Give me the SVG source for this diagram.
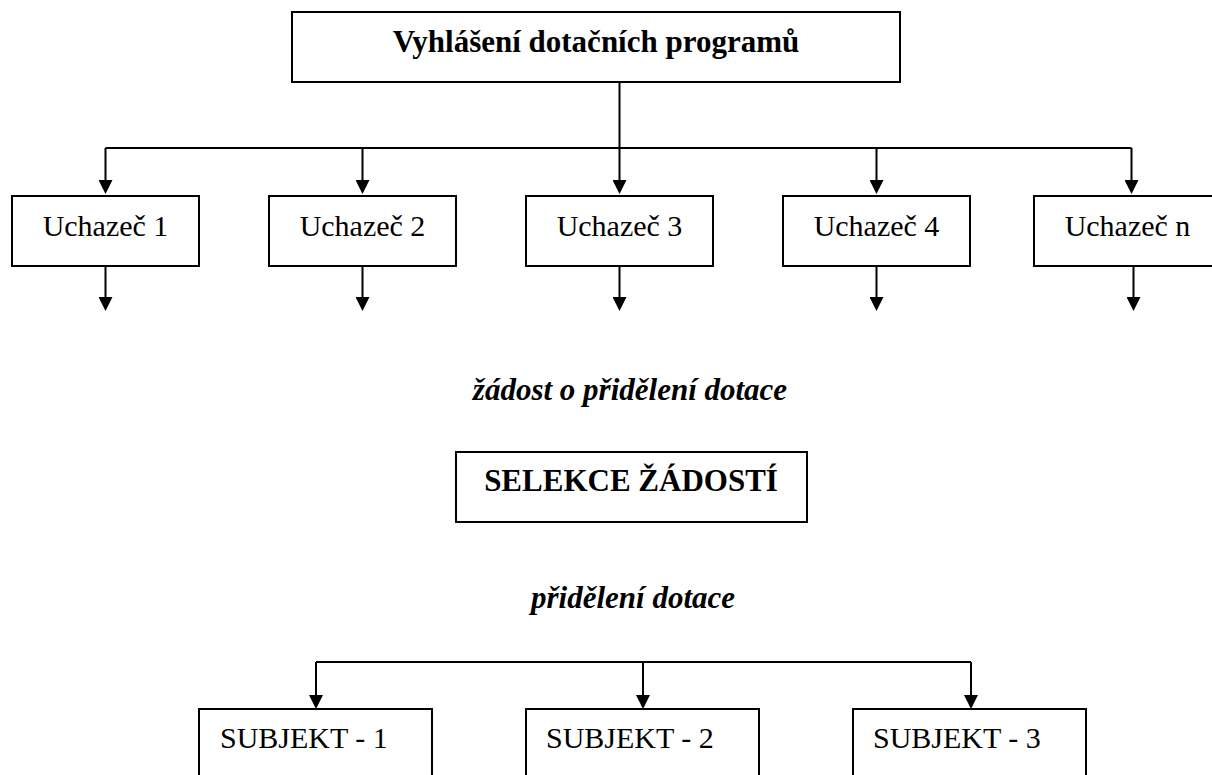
<svg xmlns="http://www.w3.org/2000/svg" width="1212" height="775" viewBox="0 0 1212 775">
<style>
  .box{fill:#fff;stroke:#000;stroke-width:2}
  .ln{fill:none;stroke:#000;stroke-width:2}
  .ar{fill:none;stroke:#000;stroke-width:2;marker-end:url(#ah)}
  .t{font-family:"Liberation Serif","Times New Roman",serif;font-size:30px;fill:#000}
  .c{text-anchor:middle}
  .b{font-weight:bold;font-size:31px}
  .bi{font-weight:bold;font-style:italic;font-size:31px}
</style>
<defs>
  <marker id="ah" markerUnits="userSpaceOnUse" markerWidth="14" markerHeight="14" refX="0" refY="7" orient="auto" viewBox="0 0 14 14">
    <path d="M0,0 L14,7 L0,14 Z" fill="#000"/>
  </marker>
</defs>
<rect width="1212" height="775" fill="#fff"/>
<g id="connectors">
  <path class="ar" d="M619.5,82 V180"/>
  <path class="ln" d="M105.5,148 H1131.5"/>
  <path class="ar" d="M105.5,148 V180"/>
  <path class="ar" d="M362.5,148 V180"/>
  <path class="ar" d="M876.5,148 V180"/>
  <path class="ar" d="M1131.5,148 V180"/>
  <path class="ar" d="M105.5,266 V297"/>
  <path class="ar" d="M362.5,266 V297"/>
  <path class="ar" d="M619.5,266 V297"/>
  <path class="ar" d="M876.5,266 V297"/>
  <path class="ar" d="M1133.5,266 V297"/>
  <path class="ln" d="M316,662 H971"/>
  <path class="ar" d="M316,662 V695"/>
  <path class="ar" d="M643,662 V695"/>
  <path class="ar" d="M971,662 V695"/>
</g>
<g id="vyhlaseni">
  <rect class="box" x="292" y="12" width="608" height="70"/>
  <text class="t b c" x="596" y="52">Vyhlášení dotačních programů</text>
</g>
<g id="uchazec1">
  <rect class="box" x="12" y="196" width="187" height="70"/>
  <text class="t c" x="105.5" y="236">Uchazeč 1</text>
</g>
<g id="uchazec2">
  <rect class="box" x="269" y="196" width="187" height="70"/>
  <text class="t c" x="362.5" y="236">Uchazeč 2</text>
</g>
<g id="uchazec3">
  <rect class="box" x="526" y="196" width="187" height="70"/>
  <text class="t c" x="619.5" y="236">Uchazeč 3</text>
</g>
<g id="uchazec4">
  <rect class="box" x="783" y="196" width="187" height="70"/>
  <text class="t c" x="876.5" y="236">Uchazeč 4</text>
</g>
<g id="uchazecn">
  <rect class="box" x="1034" y="196" width="187" height="70"/>
  <text class="t c" x="1127.5" y="236">Uchazeč n</text>
</g>
<g id="label-zadost">
  <text class="t bi c" x="630" y="400">žádost o přidělení dotace</text>
</g>
<g id="selekce">
  <rect class="box" x="456" y="452" width="351" height="70"/>
  <text class="t b c" x="631" y="491">SELEKCE ŽÁDOSTÍ</text>
</g>
<g id="label-prideleni">
  <text class="t bi c" x="633" y="608">přidělení dotace</text>
</g>
<g id="subjekt1">
  <rect class="box" x="199" y="709" width="233" height="100"/>
  <text class="t" x="220" y="748">SUBJEKT - 1</text>
</g>
<g id="subjekt2">
  <rect class="box" x="526" y="709" width="233" height="100"/>
  <text class="t" x="546" y="748">SUBJEKT - 2</text>
</g>
<g id="subjekt3">
  <rect class="box" x="853" y="709" width="233" height="100"/>
  <text class="t" x="873" y="748">SUBJEKT - 3</text>
</g>
</svg>
